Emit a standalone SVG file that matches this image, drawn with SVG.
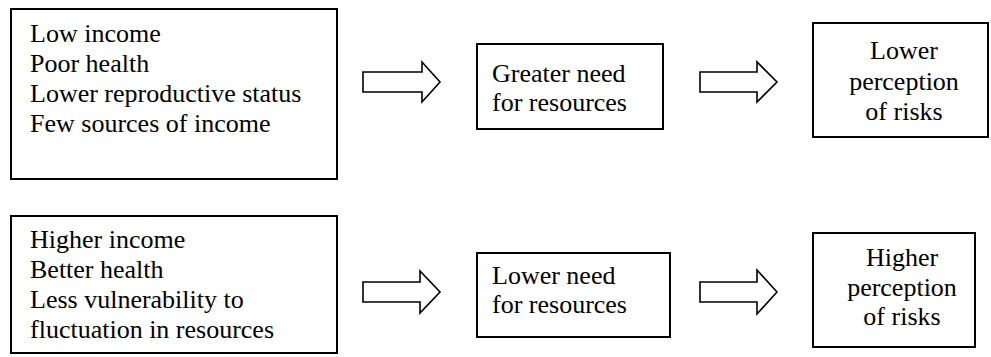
<svg xmlns="http://www.w3.org/2000/svg" width="991" height="357" viewBox="0 0 991 357">
<style>
.box{fill:#fff;stroke:#000;stroke-width:2}
.arr{fill:#fff;stroke:#000;stroke-width:1.6;stroke-linejoin:miter}
text{font-family:"Liberation Serif","Times New Roman",serif;font-size:26px;fill:#000}
.c{text-anchor:middle}
</style>
<rect width="991" height="357" fill="#fff"/>
<g id="n1">
<rect class="box" x="11" y="9" width="326" height="170"/>
<text x="30" y="42">Low income</text>
<text x="30" y="72">Poor health</text>
<text x="30" y="102">Lower reproductive status</text>
<text x="30" y="132">Few sources of income</text>
</g>
<g id="n2">
<rect class="box" x="477" y="44" width="186" height="85"/>
<text x="492" y="82">Greater need</text>
<text x="492" y="111">for resources</text>
</g>
<g id="n3">
<rect class="box" x="813" y="23" width="175" height="114"/>
<text class="c" x="904" y="59">Lower</text>
<text class="c" x="904" y="90">perception</text>
<text class="c" x="904" y="120">of risks</text>
</g>
<g id="n4">
<rect class="box" x="11" y="216" width="326" height="137"/>
<text x="30" y="248">Higher income</text>
<text x="30" y="278">Better health</text>
<text x="30" y="308">Less vulnerability to</text>
<text x="30" y="338">fluctuation in resources</text>
</g>
<g id="n5">
<rect class="box" x="477" y="253" width="193" height="84"/>
<text x="492" y="284">Lower need</text>
<text x="492" y="313">for resources</text>
</g>
<g id="n6">
<rect class="box" x="813" y="233" width="162" height="114"/>
<text class="c" x="902" y="266">Higher</text>
<text class="c" x="902" y="296">perception</text>
<text class="c" x="902" y="325">of risks</text>
</g>
<g id="connectors">
<path class="arr" d="M363,72 H422 V62 L440,82 L422,102 V92 H363 Z"/>
<path class="arr" d="M700,72 H757 V62 L777,82 L757,102 V92 H700 Z"/>
<path class="arr" d="M363,282 H420 V271 L440,292 L420,313 V302 H363 Z"/>
<path class="arr" d="M700,282 H757 V270 L777,292 L757,314 V302 H700 Z"/>
</g>
</svg>
